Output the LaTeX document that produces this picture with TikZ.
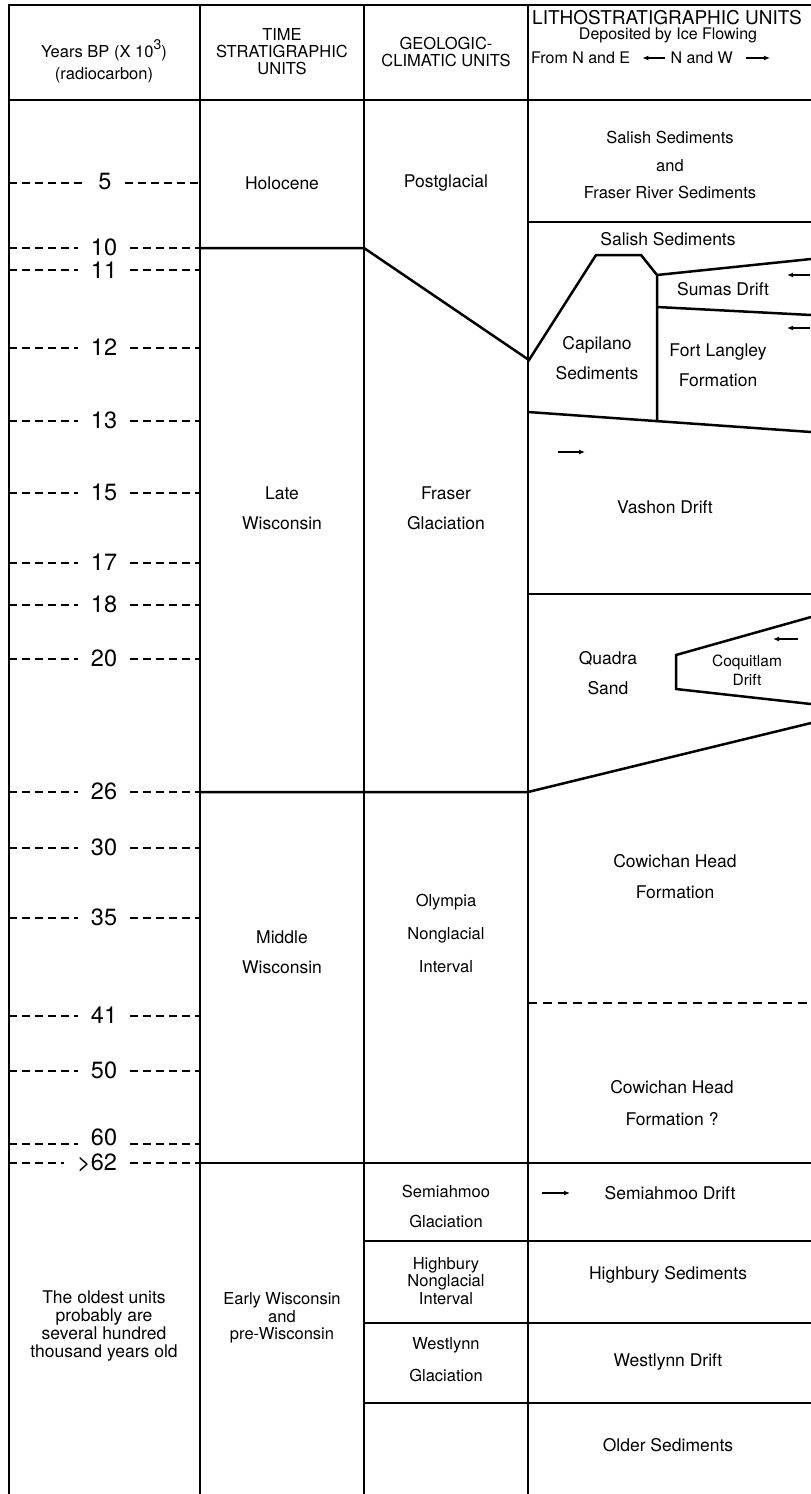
\documentclass[tikz,border=0pt]{standalone}
\usepackage{fontspec}
\setmainfont{TeX Gyre Heros}
\usetikzlibrary{arrows.meta,positioning}

\begin{document}
\begin{tikzpicture}[x=1pt,y=-1pt,
    rule/.style={line width=2.5pt,line join=miter},
    agetick/.style={line width=2.2pt,dash pattern=on 8pt off 5pt},
    age/.style={font=\fontsize{23.5}{24}\selectfont,inner xsep=13pt,inner ysep=0pt},
    unit/.style={font=\fontsize{17.5}{30}\selectfont,align=center,inner sep=0pt},
    tight/.style={font=\fontsize{16.5}{17.5}\selectfont,align=center,inner sep=0pt},
    head/.style={font=\fontsize{16.5}{17}\selectfont,align=center,inner sep=0pt},
    flow/.style={line width=1.6pt,-{Latex[length=6pt,width=5pt]}}]
  \useasboundingbox (0,0) rectangle (811,1494);

  % frame and columns
  \draw[rule] (9,1494) -- (9,5) -- (811,5);
  \draw[rule] (9,100) -- (811,100);
  \foreach \x in {200,364,528}
    \draw[rule] (\x,5) -- (\x,1494);

  % header
  \node[head] (years) at (104,50) {Years BP (X 10\raisebox{8pt}{\fontsize{14}{14}\selectfont 3})};
  \node[head] (radio) at (104,75) {(radiocarbon)};
  \node[head] (timestrat) at (282,52) {TIME\\STRATIGRAPHIC\\UNITS};
  \node[head] (geoclim) at (446,52) {GEOLOGIC-\\CLIMATIC UNITS};
  \node[head,anchor=west,font=\fontsize{19}{19}\selectfont] (litho) at (532,18) {LITHOSTRATIGRAPHIC UNITS};
  \node[head,font=\fontsize{16}{16}\selectfont] (deposited) at (668,35) {Deposited by Ice Flowing};
  \node[head,anchor=west,font=\fontsize{16}{16}\selectfont] (fromNE) at (531,58) {From N and E};
  \node[head,font=\fontsize{16}{16}\selectfont,right=40pt of fromNE] (NW) {N and W};
  \draw[flow] ([xshift=-5pt]NW.west) -- ([xshift=12pt]fromNE.east);
  \draw[flow] ([xshift=13pt]NW.east) -- ++(24,0);

  % age scale
  \foreach \yr/\y/\lx/\ly [count=\i] in {5/183/105/182, 10/248/104/247, 11/270/104/270,
      12/348/104/347, 13/421/104/420, 15/493/104/492, 17/563/104/562, 18/605/104/604,
      20/659/104/658, 26/792/104/791, 30/848/104/847, 35/918/104/917, 41/1016/104/1015,
      50/1071/104/1070, 60/1144/104/1137, >62/1163/97/1163}{
    \node[age] (t\i) at (\lx,\ly) {\yr};
    \coordinate (l\i) at (9,\y);
    \coordinate (r\i) at (200,\y);
    \draw[agetick] (l\i) -- (l\i -| t\i.west);
    \draw[agetick] (t\i.east |- r\i) -- (r\i);
  }

  % unit boundaries
  \draw[rule] (200,248) -- (364,248) -- (529,360) -- (596,255) -- (641,255)
    -- (657,275) -- (657,422);
  \draw[rule] (528,222) -- (811,222);
  \draw[rule] (657,275) -- (811,259);
  \draw[rule] (657,307) -- (811,315);
  \draw[rule] (528,412) -- (811,432);
  \draw[rule] (528,594) -- (811,594);
  \draw[rule] (811,617) -- (676,655) -- (676,689) -- (811,704);
  \draw[rule] (200,792) -- (528,792) -- (811,723);
  \draw[line width=2.2pt,dash pattern=on 9pt off 6pt] (528,1003) -- (811,1003);
  \draw[rule] (200,1163) -- (811,1163);
  \foreach \y in {1241,1323,1403}
    \draw[rule] (364,\y) -- (811,\y);

  % ice flow directions
  \draw[flow] (810,275) -- (787,275);
  \draw[flow] (810,328) -- (787,328);
  \draw[flow] (558,452) -- (585,452);
  \draw[flow] (798,639) -- (773,639);
  \draw[flow] (542,1193) -- (570,1193);

  % time-stratigraphic units
  \node[unit] (holocene) at (282,183) {Holocene};
  \node[unit] (latewis) at (282,508) {Late\\Wisconsin};
  \node[unit] (midwis) at (282,952) {Middle\\Wisconsin};
  \node[tight] (earlywis) at (282,1318) {Early Wisconsin\\and\\pre-Wisconsin};
  \node[tight,font=\fontsize{17.5}{18}\selectfont] (oldest) at (104,1326)
    {The oldest units\\probably are\\several hundred\\thousand years old};

  % geologic-climatic units
  \node[unit] (postglacial) at (446,183) {Postglacial};
  \node[unit] (fraser) at (446,508) {Fraser\\Glaciation};
  \node[unit,font=\fontsize{16.5}{33}\selectfont] (olympia) at (446,933) {Olympia\\Nonglacial\\Interval};
  \node[unit,font=\fontsize{16.5}{30}\selectfont] (semglac) at (446,1206) {Semiahmoo\\Glaciation};
  \node[tight] (highnon) at (446,1281) {Highbury\\Nonglacial\\Interval};
  \node[unit,font=\fontsize{16.5}{32}\selectfont] (westglac) at (446,1360) {Westlynn\\Glaciation};

  % lithostratigraphic units
  \node[unit,font=\fontsize{16.5}{27.5}\selectfont] (salishfraser) at (670,165)
    {Salish Sediments\\and\\Fraser River Sediments};
  \node[unit] (salish) at (668,239) {Salish Sediments};
  \node[unit] (sumas) at (723,289) {Sumas Drift};
  \node[unit] (capilano) at (597,358) {Capilano\\Sediments};
  \node[unit] (fortlangley) at (718,365) {Fort Langley\\Formation};
  \node[unit] (vashon) at (665,507) {Vashon Drift};
  \node[unit] (quadra) at (608,673) {Quadra\\Sand};
  \node[unit,font=\fontsize{15.5}{19}\selectfont] (coquitlam) at (747,670) {Coquitlam\\Drift};
  \node[unit,font=\fontsize{17.5}{31}\selectfont] (cowichan) at (675,877) {Cowichan Head\\Formation};
  \node[unit,font=\fontsize{17.5}{32}\selectfont] (cowichanq) at (672,1103) {Cowichan Head\\Formation ?};
  \node[unit] (semdrift) at (670,1193) {Semiahmoo Drift};
  \node[unit] (highsed) at (668,1275) {Highbury Sediments};
  \node[unit] (westdrift) at (668,1362) {Westlynn Drift};
  \node[unit] (older) at (668,1445) {Older Sediments};
\end{tikzpicture}
\end{document}
